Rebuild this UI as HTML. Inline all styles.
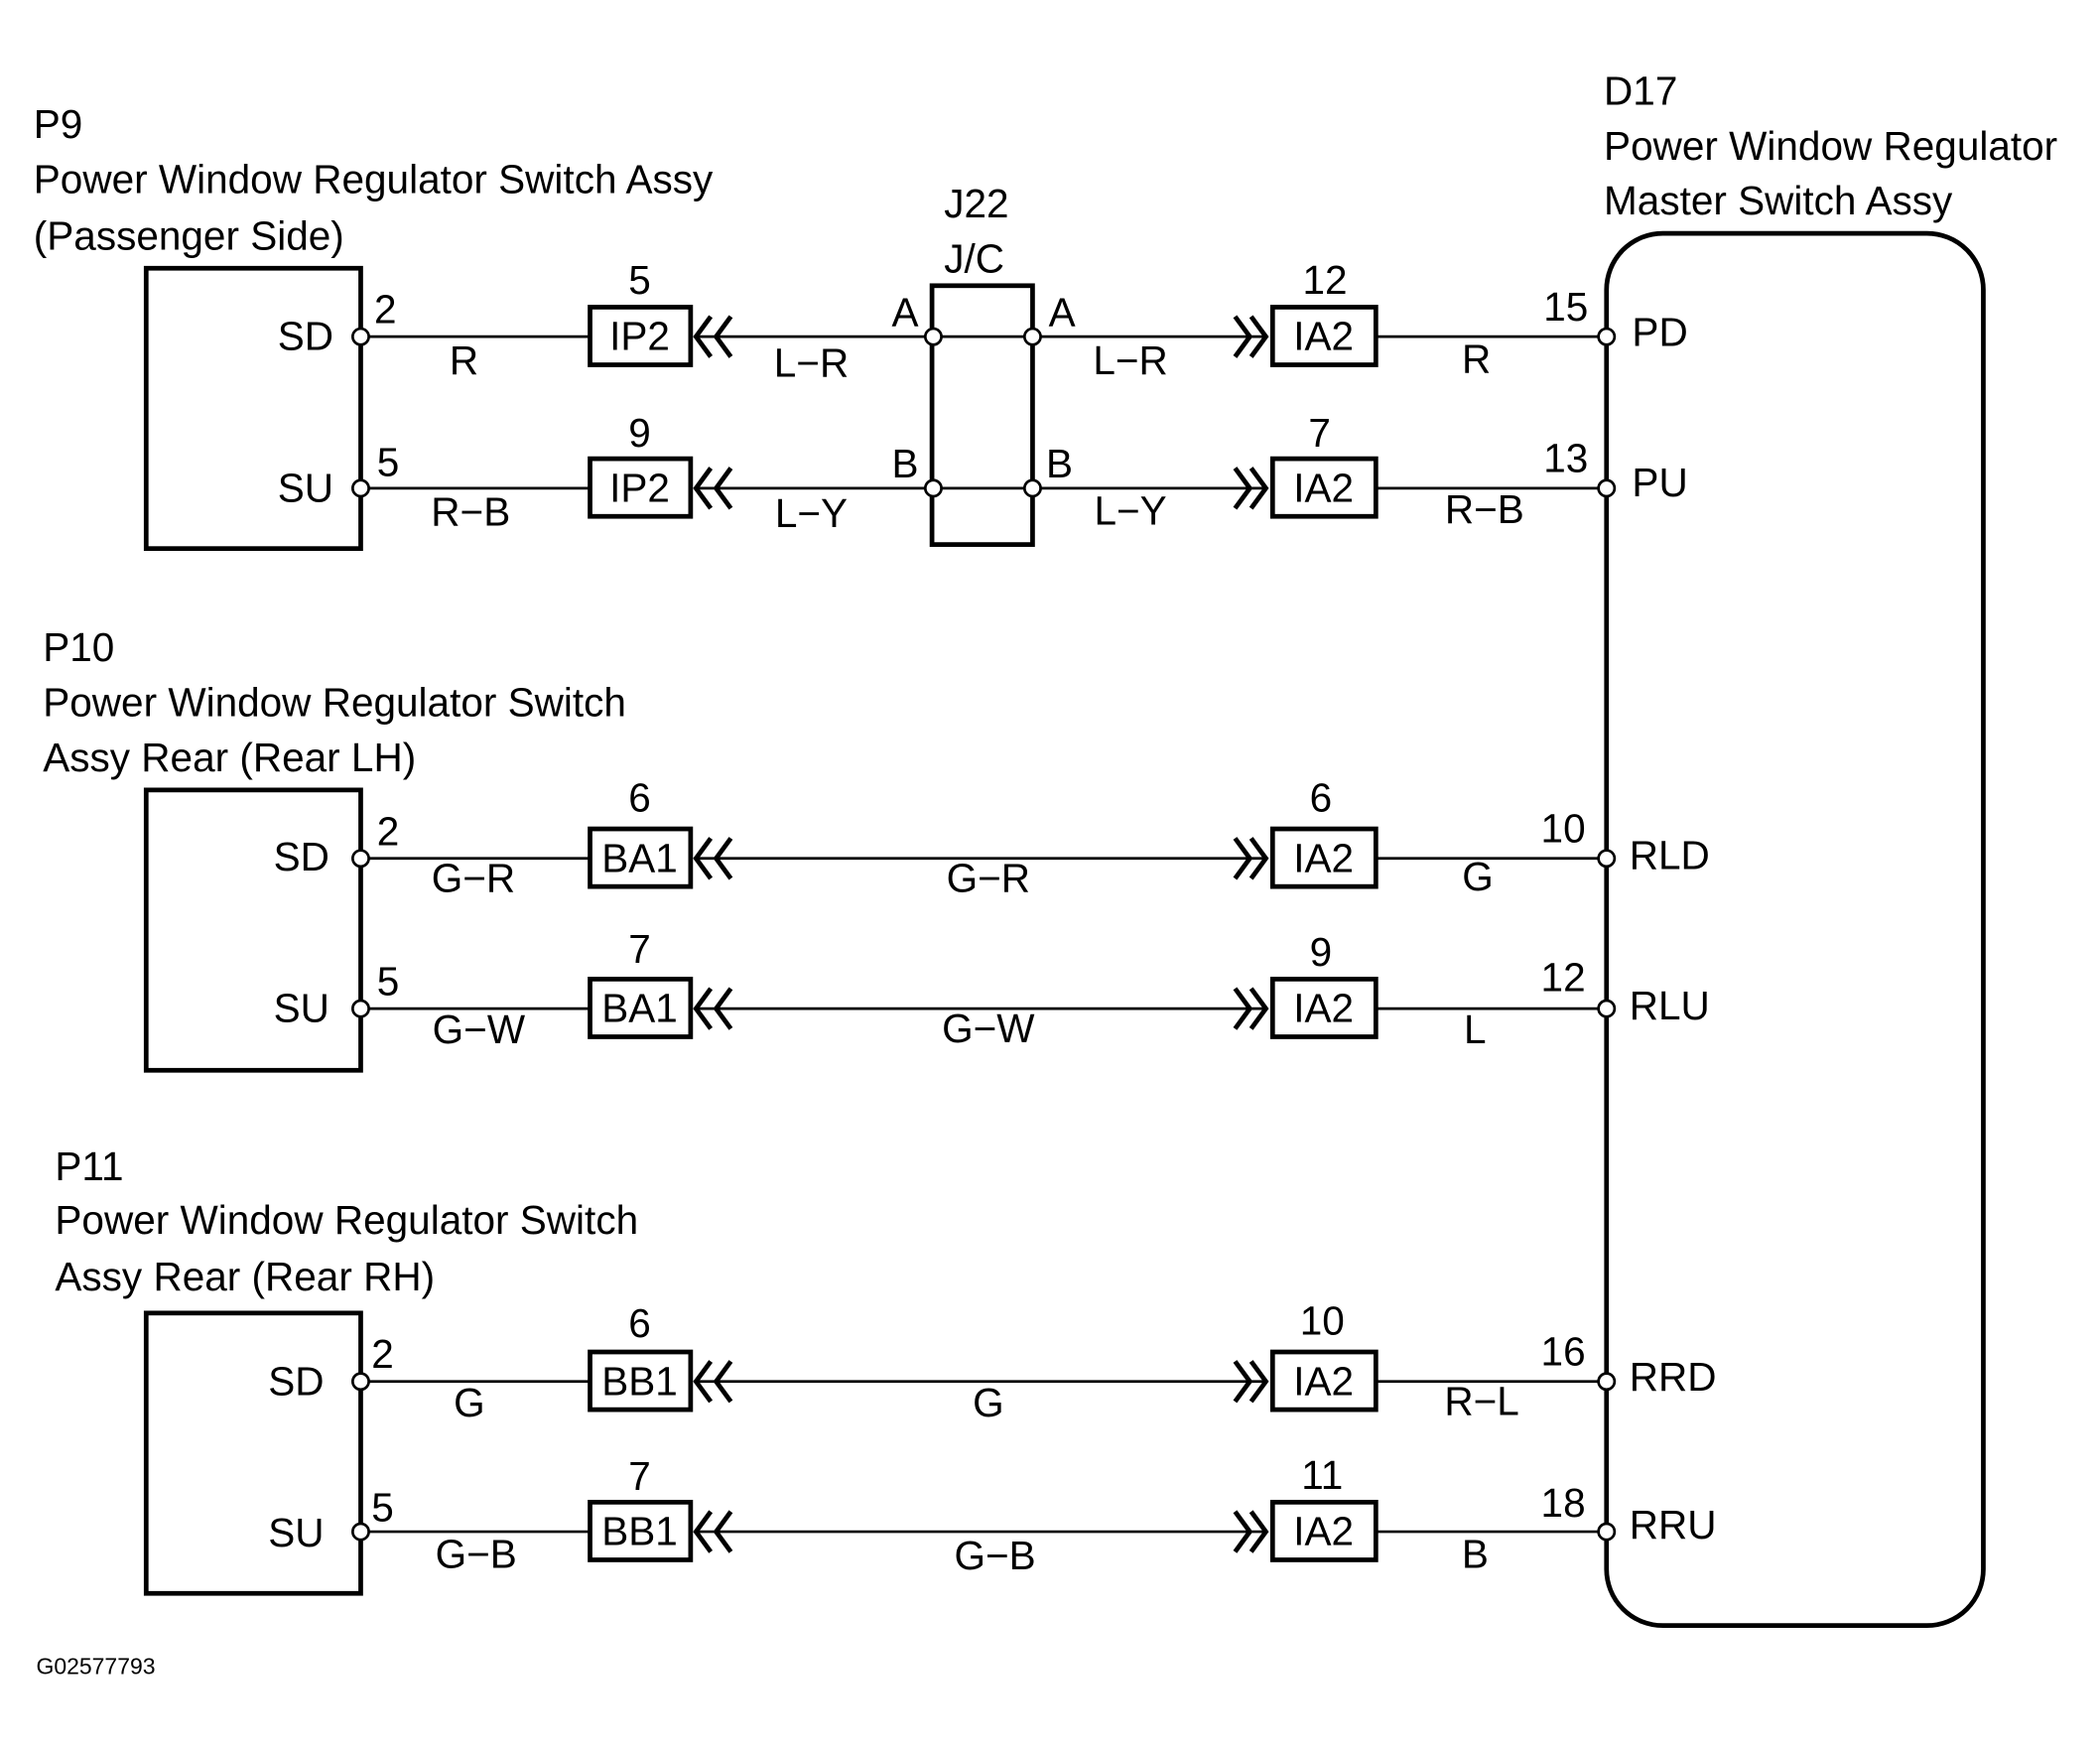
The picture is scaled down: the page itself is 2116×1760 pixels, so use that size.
<!DOCTYPE html>
<html><head><meta charset="utf-8"><style>
html,body{margin:0;padding:0;background:#fff;}
svg{display:block}
text{font-family:"Liberation Sans",sans-serif;fill:#000}
</style></head><body>
<svg width="2116" height="1760" viewBox="0 0 1566 1302" preserveAspectRatio="xMinYMin meet" xmlns="http://www.w3.org/2000/svg">
<defs>
<g id="lc"><path d="M530,-15 L519,0 L530,15 M545,-15 L534,0 L545,15" fill="none" stroke="#000" stroke-width="3.5"/></g>
<g id="rc"><path d="M921,-15 L932,0 L921,15 M933,-15 L944,0 L933,15" fill="none" stroke="#000" stroke-width="3.5"/></g>
</defs>
<g font-size="30">
<text x="25" y="103">P9</text>
<text x="25" y="144">Power Window Regulator Switch Assy</text>
<text x="25" y="186">(Passenger Side)</text>
<text x="32" y="493">P10</text>
<text x="32" y="534">Power Window Regulator Switch</text>
<text x="32" y="575">Assy Rear (Rear LH)</text>
<text x="41" y="880">P11</text>
<text x="41" y="920">Power Window Regulator Switch</text>
<text x="41" y="962">Assy Rear (Rear RH)</text>
<text x="1196" y="78">D17</text>
<text x="1196" y="119">Power Window Regulator</text>
<text x="1196" y="160">Master Switch Assy</text>
<text x="704" y="162">J22</text>
<text x="704" y="203">J/C</text>
</g>
<text x="27" y="1248" font-size="17">G02577793</text>

<g fill="none" stroke="#000" stroke-width="3.5">
<rect x="109" y="200" width="160" height="209"/>
<rect x="109" y="589" width="160" height="209"/>
<rect x="109" y="979" width="160" height="209"/>
<rect x="695" y="213" width="75" height="193"/>
<rect x="1198" y="174" width="281" height="1038" rx="42"/>
</g>

<g stroke="#000" stroke-width="2">
<line x1="269" y1="251" x2="440" y2="251"/><line x1="519" y1="251" x2="695" y2="251"/><line x1="770" y1="251" x2="944" y2="251"/><line x1="1026" y1="251" x2="1198" y2="251"/>
<line x1="269" y1="364" x2="440" y2="364"/><line x1="519" y1="364" x2="695" y2="364"/><line x1="770" y1="364" x2="944" y2="364"/><line x1="1026" y1="364" x2="1198" y2="364"/>
<line x1="696" y1="251" x2="770" y2="251"/><line x1="696" y1="364" x2="770" y2="364"/>
<line x1="269" y1="640" x2="440" y2="640"/><line x1="519" y1="640" x2="944" y2="640"/><line x1="1026" y1="640" x2="1198" y2="640"/>
<line x1="269" y1="752" x2="440" y2="752"/><line x1="519" y1="752" x2="944" y2="752"/><line x1="1026" y1="752" x2="1198" y2="752"/>
<line x1="269" y1="1030" x2="440" y2="1030"/><line x1="519" y1="1030" x2="944" y2="1030"/><line x1="1026" y1="1030" x2="1198" y2="1030"/>
<line x1="269" y1="1142" x2="440" y2="1142"/><line x1="519" y1="1142" x2="944" y2="1142"/><line x1="1026" y1="1142" x2="1198" y2="1142"/>
</g>

<g fill="#fff" stroke="#000" stroke-width="3.5">
<rect x="440" y="229" width="75" height="43"/><rect x="440" y="342" width="75" height="43"/>
<rect x="440" y="618" width="75" height="43"/><rect x="440" y="730" width="75" height="43"/>
<rect x="440" y="1008" width="75" height="43"/><rect x="440" y="1120" width="75" height="43"/>
<rect x="949" y="229" width="77" height="43"/><rect x="949" y="342" width="77" height="43"/>
<rect x="949" y="618" width="77" height="43"/><rect x="949" y="730" width="77" height="43"/>
<rect x="949" y="1008" width="77" height="43"/><rect x="949" y="1120" width="77" height="43"/>
</g>

<use href="#lc" y="251"/><use href="#lc" y="364"/><use href="#lc" y="640"/><use href="#lc" y="752"/><use href="#lc" y="1030"/><use href="#lc" y="1142"/>
<use href="#rc" y="251"/><use href="#rc" y="364"/><use href="#rc" y="640"/><use href="#rc" y="752"/><use href="#rc" y="1030"/><use href="#rc" y="1142"/>

<g fill="#fff" stroke="#000" stroke-width="2">
<circle cx="269" cy="251" r="6"/><circle cx="269" cy="364" r="6"/>
<circle cx="269" cy="640" r="6"/><circle cx="269" cy="752" r="6"/>
<circle cx="269" cy="1030" r="6"/><circle cx="269" cy="1142" r="6"/>
<circle cx="696" cy="251" r="6"/><circle cx="770" cy="251" r="6"/>
<circle cx="696" cy="364" r="6"/><circle cx="770" cy="364" r="6"/>
<circle cx="1198" cy="251" r="6"/><circle cx="1198" cy="364" r="6"/>
<circle cx="1198" cy="640" r="6"/><circle cx="1198" cy="752" r="6"/>
<circle cx="1198" cy="1030" r="6"/><circle cx="1198" cy="1142" r="6"/>
</g>

<g font-size="30" text-anchor="middle">
<text x="477" y="261">IP2</text><text x="477" y="374">IP2</text>
<text x="477" y="650">BA1</text><text x="477" y="762">BA1</text>
<text x="477" y="1040">BB1</text><text x="477" y="1152">BB1</text>
<text x="987" y="261">IA2</text><text x="987" y="374">IA2</text>
<text x="987" y="650">IA2</text><text x="987" y="762">IA2</text>
<text x="987" y="1040">IA2</text><text x="987" y="1152">IA2</text>
<text x="477" y="219">5</text><text x="477" y="333">9</text>
<text x="477" y="605">6</text><text x="477" y="718">7</text>
<text x="477" y="997">6</text><text x="477" y="1111">7</text>
<text x="988" y="219">12</text><text x="984" y="333">7</text>
<text x="985" y="605">6</text><text x="985" y="720">9</text>
<text x="986" y="995">10</text><text x="986" y="1110">11</text>
<text x="346" y="279">R</text><text x="351" y="392">R−B</text>
<text x="605" y="281">L−R</text><text x="605" y="393">L−Y</text>
<text x="843" y="279">L−R</text><text x="843" y="391">L−Y</text>
<text x="1101" y="278">R</text><text x="1107" y="390">R−B</text>
<text x="353" y="665">G−R</text><text x="357" y="778">G−W</text>
<text x="737" y="665">G−R</text><text x="737" y="777">G−W</text>
<text x="1102" y="664">G</text><text x="1100" y="778">L</text>
<text x="350" y="1056">G</text><text x="355" y="1169">G−B</text>
<text x="737" y="1056">G</text><text x="742" y="1170">G−B</text>
<text x="1105" y="1055">R−L</text><text x="1100" y="1169">B</text>
</g>
<g font-size="30">
<text x="207" y="261">SD</text><text x="207" y="374">SU</text>
<text x="204" y="649">SD</text><text x="204" y="762">SU</text>
<text x="200" y="1040">SD</text><text x="200" y="1153">SU</text>
<text x="279" y="241">2</text><text x="281" y="355">5</text>
<text x="281" y="630">2</text><text x="281" y="742">5</text>
<text x="277" y="1020">2</text><text x="277" y="1134">5</text>
<text x="665" y="243">A</text><text x="782" y="243">A</text>
<text x="665" y="356">B</text><text x="780" y="356">B</text>
<text x="1151" y="239">15</text><text x="1151" y="352">13</text>
<text x="1149" y="628">10</text><text x="1149" y="739">12</text>
<text x="1149" y="1018">16</text><text x="1149" y="1131">18</text>
<text x="1217" y="258">PD</text><text x="1217" y="370">PU</text>
<text x="1215" y="648">RLD</text><text x="1215" y="760">RLU</text>
<text x="1215" y="1037">RRD</text><text x="1215" y="1147">RRU</text>
</g>
</svg>
</body></html>
